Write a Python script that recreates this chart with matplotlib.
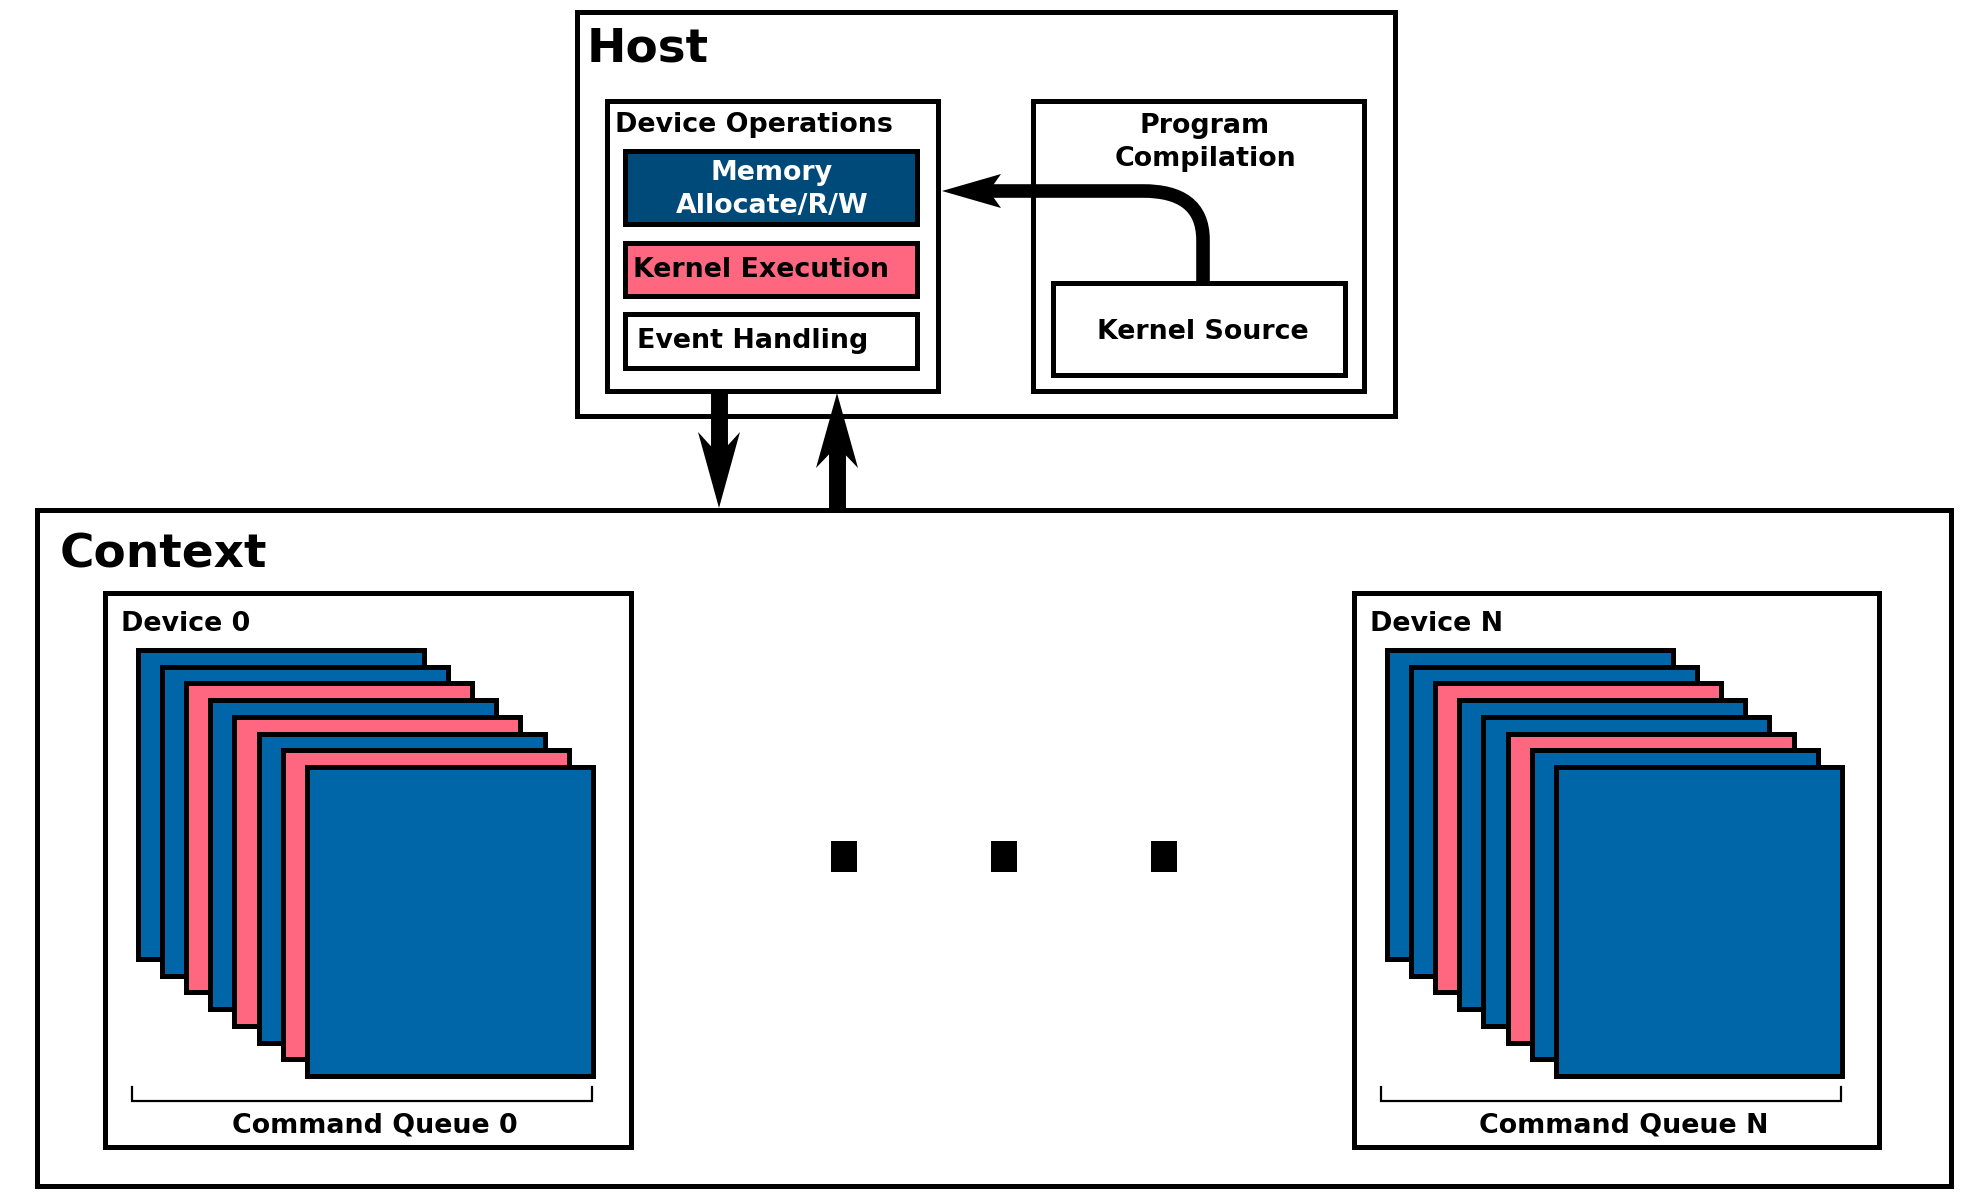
import matplotlib.pyplot as plt
from matplotlib.patches import Rectangle, Polygon, PathPatch
from matplotlib.path import Path

# colours
BLUE = '#0066a8'
PINK = '#ff6680'
DARK = '#004a7a'

# boxes: (left, top, right, bottom) in image pixels
host_box = (577, 12, 1395, 416)
devops_box = (607, 101, 938, 391)
progcomp_box = (1033, 101, 1364, 391)
memory_box = (625, 151, 917, 224)
kernel_exec_box = (625, 243, 917, 296)
event_box = (625, 314, 917, 368)
kernel_src_box = (1053, 283, 1345, 375)
context_box = (37, 510, 1951, 1186)
device_boxes = [(105, 593, 631, 1147), (1354, 593, 1879, 1147)]

# device names, queue labels, card colours per device
device_names = ['Device 0', 'Device N']
queue_names = ['Command Queue 0', 'Command Queue N']
card_colors = [
    [BLUE, BLUE, PINK, BLUE, PINK, BLUE, PINK, BLUE],
    [BLUE, BLUE, PINK, BLUE, BLUE, PINK, BLUE, BLUE],
]
dot_x = [843.5, 1003.5, 1163.5]

LW = 3.6
SMALL = 19.4
BIG = 33.8
W, H = 1978, 1192

fig = plt.figure(figsize=(W / 100, H / 100), dpi=100)
ax = fig.add_axes([0, 0, 1, 1])
ax.set_xlim(0, W)
ax.set_ylim(H, 0)
ax.axis('off')


def box(b, fc='white', lw=LW, z=2):
    l, t, r, bt = b
    ax.add_patch(Rectangle((l, t), r - l, bt - t, facecolor=fc, edgecolor='black',
                           linewidth=lw, joinstyle='miter', zorder=z))


def label(x, y, s, size=SMALL, ha='left', color='black', z=10):
    ax.text(x, y, s, fontsize=size, fontweight='bold', ha=ha, va='baseline',
            color=color, family='DejaVu Sans', zorder=z)


# Host
box(host_box)
label(587, 61, 'Host', size=BIG)
box(devops_box, z=3)
box(progcomp_box, z=3)
label(615, 132, 'Device Operations')
box(memory_box, fc=DARK, z=4)
label(772, 180, 'Memory', ha='center', color='white')
label(772, 213, 'Allocate/R/W', ha='center', color='white')
box(kernel_exec_box, fc=PINK, z=4)
label(633, 277, 'Kernel Execution')
box(event_box, z=4)
label(637, 348, 'Event Handling')
label(1205, 133, 'Program', ha='center')
label(1205, 166, 'Compilation', ha='center')
box(kernel_src_box, z=4)
label(1203, 339, 'Kernel Source', ha='center')

# curved arrow from kernel source to memory box
verts = [(1203, 283), (1203, 240), (1203, 205), (1180, 191), (1143, 191), (985, 191)]
codes = [Path.MOVETO, Path.LINETO, Path.CURVE4, Path.CURVE4, Path.CURVE4, Path.LINETO]
ax.add_patch(PathPatch(Path(verts, codes), facecolor='none', edgecolor='black',
                       linewidth=9.8, capstyle='butt', zorder=6))
ax.add_patch(Polygon([(942, 191), (1001, 174), (989, 191), (1001, 208)],
                     closed=True, facecolor='black', edgecolor='none', zorder=7))

# Context
box(context_box, z=1)
label(60, 567, 'Context', size=BIG)

# host <-> context arrows
ax.plot([719, 719], [391, 470], color='black', linewidth=12.2,
        solid_capstyle='butt', zorder=5)
ax.add_patch(Polygon([(719, 508), (740, 432), (719, 455), (698, 432)],
                     closed=True, facecolor='black', edgecolor='none', zorder=5))
ax.plot([837, 837], [430, 510], color='black', linewidth=12.2,
        solid_capstyle='butt', zorder=5)
ax.add_patch(Polygon([(837, 393), (858, 468), (837, 446), (816, 468)],
                     closed=True, facecolor='black', edgecolor='none', zorder=5))

# devices with stacked command queues
CARD_W, CARD_H = 286, 309
DX, DY = 24.1, 16.7
for b, name, qname, cols in zip(device_boxes, device_names, queue_names, card_colors):
    box(b, z=2)
    l, t, r, bt = b
    label(l + 16, 631, name)
    x0, y0 = l + 33, 650
    for i, c in enumerate(cols):
        box((x0 + i * DX, y0 + i * DY, x0 + i * DX + CARD_W, y0 + i * DY + CARD_H),
            fc=c, lw=LW, z=3 + i * 0.01)
    bl, br = l + 27, l + 487
    ax.plot([bl, bl, br, br], [1087, 1101, 1101, 1087], color='black',
            linewidth=1.6, solid_joinstyle='miter', zorder=3)
    label((bl + br) / 2 + 13, 1132, qname, ha='center')

# ellipsis
for x in dot_x:
    ax.add_patch(Rectangle((x - 13, 841), 26, 31, facecolor='black',
                           edgecolor='none', zorder=3))

fig.savefig('out.png', dpi=100, facecolor='white')
